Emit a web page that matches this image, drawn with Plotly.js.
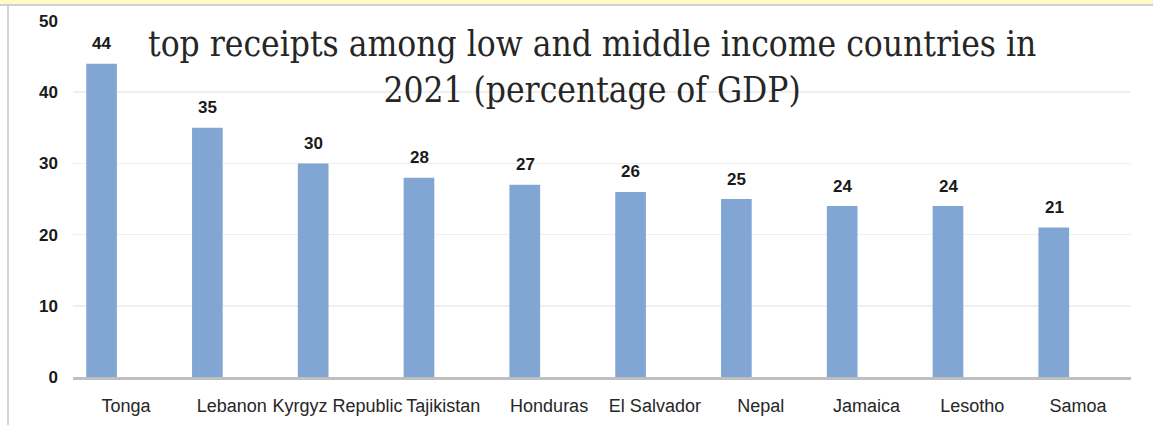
<!DOCTYPE html>
<html>
<head>
<meta charset="utf-8">
<script src="https://cdn.plot.ly/plotly-2.35.2.min.js"></script>
<style>html,body{margin:0;padding:0;background:#fff;}#chart{width:1153px;height:425px;}</style>
</head>
<body>
<div id="chart"></div>
<script>
const countries = ["Tonga","Lebanon","Kyrgyz Republic","Tajikistan","Honduras","El Salvador","Nepal","Jamaica","Lesotho","Samoa"];
const values = [44, 35, 30, 28, 27, 26, 25, 24, 24, 21];
const yTicks = [0, 10, 20, 30, 40, 50];
const titleText = "top receipts among low and middle income countries in<br>2021 (percentage of GDP)";

const barColor = "#82a6d3";

const trace = {
  type: "bar",
  x: countries,
  y: values,
  marker: {color: barColor},
  width: 0.29,
  offset: -0.375,
  hoverinfo: "x+y"
};

const annotations = countries.map((c, i) => ({
  x: c, y: values[i], xref: "x", yref: "y",
  text: "<b>" + values[i] + "</b>",
  showarrow: false,
  xshift: -24, yshift: 20,
  yanchor: "middle",
  font: {family: "Liberation Sans, Arial, sans-serif", size: 17, color: "#1a1a1a"}
}));

annotations.push({
  xref: "paper", yref: "paper",
  x: (592 - 73) / 1058, y: (377 - 67) / 356,
  xanchor: "center", yanchor: "middle",
  text: titleText,
  showarrow: false,
  align: "center",
  font: {family: "DejaVu Serif Condensed, DejaVu Serif, serif", size: 35, color: "#262626"}
});

const px2x = px => (px - 73) / 1058;
const py2y = py => (377 - py) / 356;

const layout = {
  width: 1153, height: 425,
  margin: {l: 73, r: 22, t: 21, b: 48, pad: 0},
  paper_bgcolor: "#ffffff",
  plot_bgcolor: "#ffffff",
  showlegend: false,
  bargap: 0.2,
  xaxis: {
    type: "category",
    showgrid: false,
    showline: true, linecolor: "#bfbfbf", linewidth: 3,
    ticks: "", ticklen: 0,
    tickangle: 0,
    tickfont: {family: "Liberation Sans, Arial, sans-serif", size: 18, color: "#262626"},
    ticklabelstandoff: 10,
    fixedrange: true
  },
  yaxis: {
    range: [0, 50],
    tickvals: yTicks,
    ticktext: yTicks.map(v => "<b>" + v + "</b>"),
    showgrid: true, gridcolor: "#efefef", gridwidth: 1.5,
    zeroline: false,
    showline: false,
    ticks: "",
    tickfont: {family: "Liberation Sans, Arial, sans-serif", size: 17, color: "#1a1a1a"},
    ticklabelstandoff: 14,
    fixedrange: true
  },
  annotations: annotations,
  shapes: [
    {type: "rect", xref: "paper", yref: "paper", x0: px2x(-5), x1: px2x(1160), y0: py2y(4), y1: py2y(-5),
     fillcolor: "#fffbc8", line: {width: 0}, layer: "below"},
    {type: "line", xref: "paper", yref: "paper", x0: px2x(-5), x1: px2x(1160), y0: py2y(5), y1: py2y(5),
     line: {color: "#d0d0d0", width: 2}},
    {type: "line", xref: "paper", yref: "paper", x0: px2x(8), x1: px2x(8), y0: py2y(6), y1: py2y(430),
     line: {color: "#d4d4d4", width: 2}}
  ]
};

Plotly.newPlot("chart", [trace], layout, {displayModeBar: false, staticPlot: true});
</script>
</body>
</html>
